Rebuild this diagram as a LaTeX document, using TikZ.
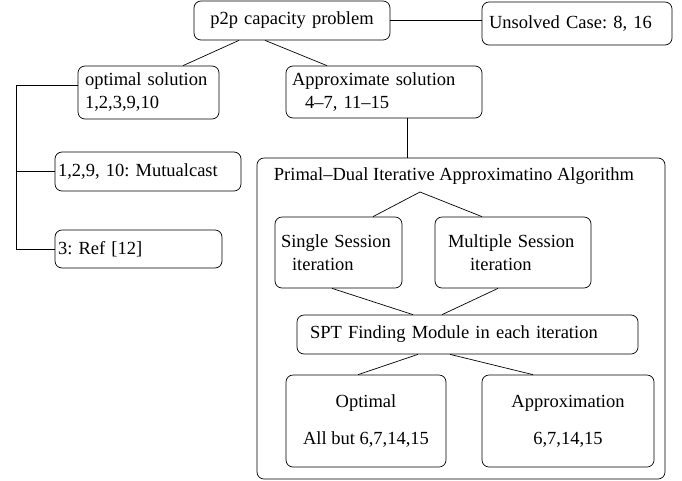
\documentclass[tikz,border=0pt]{standalone}
\usepackage{fontspec}
\setmainfont{Liberation Serif}
\frenchspacing
\tikzset{
	box/.style={draw, rounded corners=7pt, line width=0.7pt, inner ysep=0pt},
	link/.style={line width=0.7pt},
}
\begin{document}
\begin{tikzpicture}[x=1pt, y=-1pt, font=\fontsize{18.5}{23}\selectfont]
	  \useasboundingbox (0,0) rectangle (682,480);

	  \node [ box, text width=188pt, inner xsep=4pt, align=center, minimum height=39pt ] (p2p) at (292,20.5) {p2p capacity problem};
	  \node [ box, text width=176pt, inner xsep=7pt, align=left, minimum height=43pt ] (unsolved) at (577,23.5) {Unsolved Case: 8, 16};
	  \node [ box, text width=127pt, inner xsep=7pt, align=left, minimum height=53pt ] (optsol) at (148.5,92.5) {optimal solution\\1,2,3,9,10};
	  \node [ box, text width=184pt, inner xsep=6pt, align=left, minimum height=52pt ] (apxsol) at (384,92) {Approximate solution\\\hspace*{13pt}4–7, 11–15};
	  \node [ box, text width=180pt, inner xsep=3pt, align=left, minimum height=39pt ] (mutual) at (148,171.5) {1,2,9, 10: Mutualcast};
	  \node [ box, text width=161pt, inner xsep=3pt, align=left, minimum height=38pt ] (ref) at (138.5,249) {3: Ref [12]};

	  \node [ box, minimum width=408pt, minimum height=321pt ] (pd) at (461,318.5) {};
	  \node (pdtitle) at (454,176) {Primal–Dual Iterative Approximatino Algorithm};
	  \node [ box, text width=115pt, inner xsep=6pt, align=left, minimum height=71pt ] (single) at (338.5,252.5) {Single Session\\\hspace*{11pt}iteration};
	  \node [ box, text width=130pt, inner xsep=13pt, align=left, minimum height=71pt ] (multiple) at (513,252.5) {Multiple Session\\\hspace*{22pt}iteration};
	  \node [ box, text width=315pt, inner xsep=13pt, align=left, minimum height=39pt ] (spt) at (467.5,334.5) {SPT Finding Module in each iteration};
	  \node [ box, minimum width=160pt, minimum height=92pt, align=center ] (optimal) at (366,421) {Optimal\\[14pt]All but 6,7,14,15};
	  \node [ box, minimum width=172pt, minimum height=92pt, align=center ] (approx) at (568,421) {Approximation\\[14pt]6,7,14,15};

	  \draw [ link ] ([xshift=-53pt]p2p.south) -- ([xshift=34.5pt]optsol.north);
	  \draw [ link ] ([xshift=-27pt]p2p.south) -- ([xshift=-57pt]apxsol.north);
	  \draw [ link ] (p2p.east) -- (p2p.east -| unsolved.west);

	  \coordinate (rail) at (16,0);
	  \draw [ link ] ([yshift=7.5pt]optsol.west) -| (rail |- ref.west) -- (ref.west);
	  \draw [ link ] (rail |- mutual.west) -- (mutual.west);

	  \coordinate (apxdrop) at ([xshift=23pt]apxsol.south);
	  \draw [ link ] (apxdrop) -- (apxdrop |- pd.north);

	  \coordinate (pdfork) at (420,192);
	  \draw [ link ] (pdfork) -- ([xshift=34.5pt]single.north);
	  \draw [ link ] (pdfork) -- ([xshift=-31pt]multiple.north);
	  \draw [ link ] ([xshift=-6.5pt]single.south) -- ([xshift=-54.5pt]spt.north);
	  \draw [ link ] ([xshift=-15pt]multiple.south) -- ([xshift=-25.5pt]spt.north);
	  \draw [ link ] ([xshift=-49.5pt]spt.south) -- ([xshift=-8pt]optimal.north);
	  \draw [ link ] ([xshift=-17.5pt]spt.south) -- ([xshift=-35pt]approx.north);
	\end{tikzpicture}
\end{document}
